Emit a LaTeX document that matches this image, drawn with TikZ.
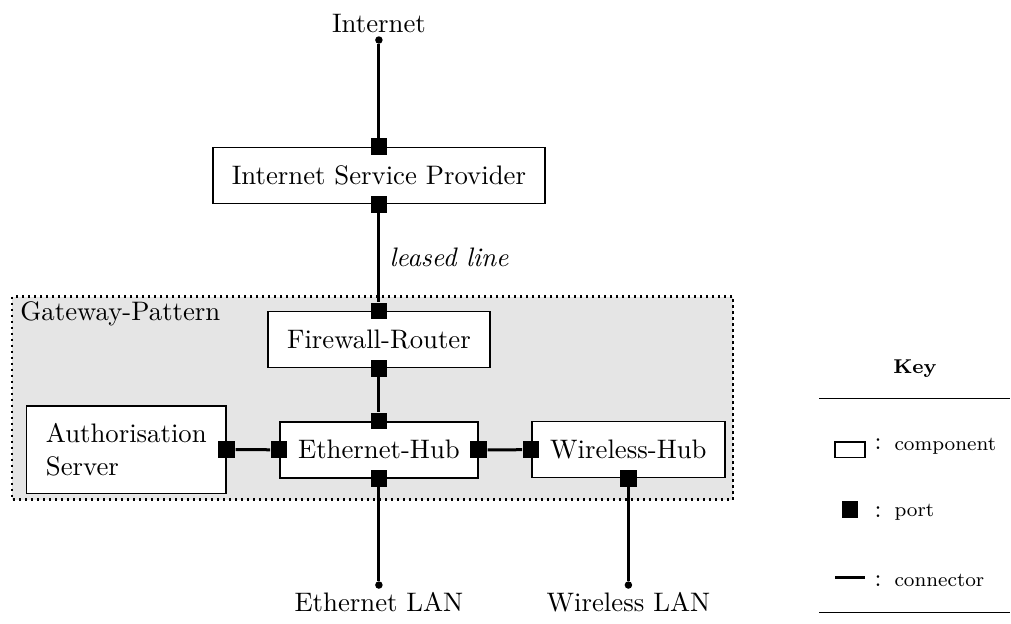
\documentclass[tikz,border=0pt]{standalone}
\newcommand\diagsize{\fontsize{10.7}{13}\selectfont}
\begin{document}
\begin{tikzpicture}[x=0.4pt, y=-0.4pt,
  comp/.style={draw, line width=0.6pt, fill=white, minimum height=22.4pt, inner sep=0pt, font=\diagsize},
  port/.style={fill=black, draw=none, minimum size=6.7pt, inner sep=0pt},
  conn/.style={line width=1.2pt},
  endpt/.style={circle, fill=black, minimum size=3pt, inner sep=0pt},
  lbl/.style={inner sep=0pt, font=\diagsize},
  keytext/.style={font=\footnotesize, anchor=base west, inner sep=0pt},
  colon/.style={font=\normalsize, anchor=base, inner sep=0pt}]
\useasboundingbox (0,0) rectangle (1011,623);

% gateway region
\path[fill=gray!20!white, draw=black, line width=0.9pt, dash pattern=on 0.9pt off 1.5pt]
  (12,296.5) rectangle (733,499.5);
\node[lbl, anchor=base west] (gwlabel) at (20,320.7) {Gateway-Pattern};

% components
\node[comp, minimum width=132.9pt] (isp) at (378.9,175.5) {Internet Service Provider};
\node[comp, minimum width=88.9pt] (fw) at (378.9,339.7) {Firewall-Router};
\node[comp, minimum width=79.3pt] (eth) at (378.9,449.8) {Ethernet-Hub};
\node[comp, minimum width=77.3pt] (wl) at (628.4,449.7) {Wireless-Hub};
\node[comp, minimum width=79.7pt, minimum height=35pt, align=left] (auth) at (126.3,449.5)
  {Authorisation\\Server};

% ports
\node[port] (ispT) at (isp.north) {};
\node[port] (ispB) at (isp.south) {};
\node[port] (fwT) at (fw.north) {};
\node[port] (fwB) at (fw.south) {};
\node[port] (ethT) at (eth.north) {};
\node[port] (ethB) at (eth.south) {};
\node[port] (ethL) at (eth.west) {};
\node[port] (ethR) at (eth.east) {};
\node[port] (wlL) at (wl.west) {};
\node[port] (wlB) at (wl.south) {};
\node[port] (authR) at (auth.east) {};

% external end points
\node[endpt] (inetdot) at (378.9,40) {};
\node[endpt] (ethdot) at (378.9,585) {};
\node[endpt] (wldot) at (628.4,585) {};
\node[lbl, anchor=base] (inet) at (378.9,32) {Internet};
\node[lbl, anchor=base] (ethlan) at (378.9,611.7) {Ethernet LAN};
\node[lbl, anchor=base] (wllan) at (628.4,611.7) {Wireless LAN};

% connectors
\draw[conn] (inetdot) -- (ispT);
\draw[conn] (ispB) -- (fwT);
\node[lbl, anchor=base west, font=\diagsize\itshape] (leasedlbl) at (389,266.7) {leased line};
\draw[conn] (fwB) -- (ethT);
\draw[conn] (authR) -- (ethL);
\draw[conn] (ethR) -- (wlL);
\draw[conn] (ethB) -- (ethdot);
\draw[conn] (wlB) -- (wldot);

% key
\node[font=\footnotesize\bfseries, anchor=base, inner sep=0pt] (keyttl) at (915,373) {Key};
\coordinate (r1a) at (819,398.3);
\coordinate (r1b) at (1010,398.3);
\coordinate (r2a) at (819,612.7);
\coordinate (r2b) at (1010,612.7);
\draw[line width=0.5pt] (r1a) -- (r1b);
\draw[line width=0.5pt] (r2a) -- (r2b);

\node[draw, line width=0.5pt, minimum width=12pt, minimum height=6.1pt, inner sep=0pt] (kcomp) at (850,449.7) {};
\node[colon] (c1) at (878,449) {:};
\node[keytext] (tcomp) at (894,450) {component};

\node[port] (kport) at (850,509.7) {};
\node[colon] (c2) at (878,517) {:};
\node[keytext] (tport) at (894,516.7) {port};

\coordinate (kca) at (835,577.3);
\coordinate (kcb) at (865,577.3);
\draw[conn] (kca) -- (kcb);
\node[colon] (c3) at (878,586.5) {:};
\node[keytext] (tconn) at (894,586.7) {connector};
\end{tikzpicture}
\end{document}
